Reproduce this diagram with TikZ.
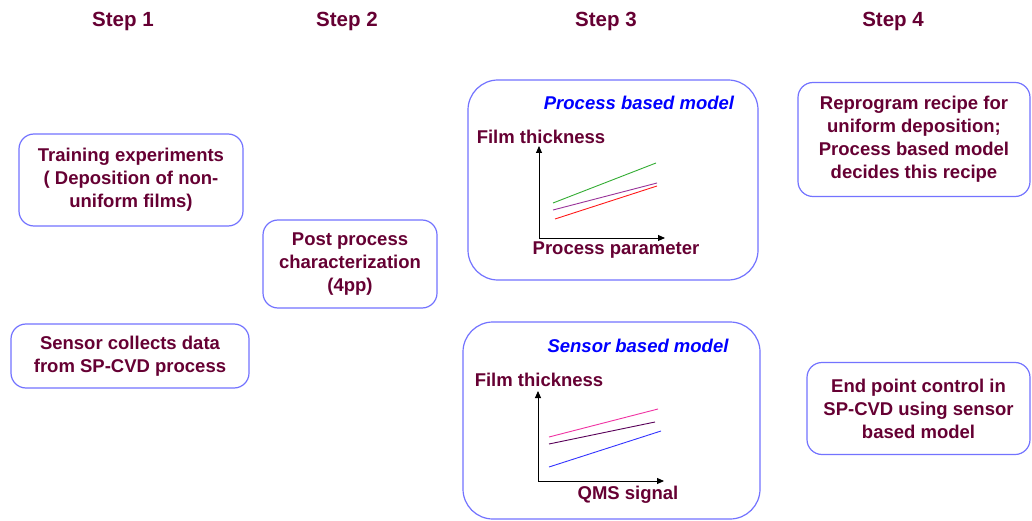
\documentclass[tikz,border=0pt]{standalone}
\usepackage{fontspec}
\setmainfont{Liberation Sans}
\usetikzlibrary{arrows.meta}
\definecolor{wine}{HTML}{660033}
\definecolor{boxblue}{HTML}{7373FF}
\definecolor{modelblue}{HTML}{0000FF}
\tikzset{
  steptext/.style = {text=wine, font=\bfseries\fontsize{20.5}{24}\selectfont},
  stepbox/.style = {draw=boxblue, line width=1.2pt, rounded corners=15pt, fill=white,
                    text=wine, align=center, font=\bfseries\fontsize{18.5}{23}\selectfont},
  modelbox/.style = {stepbox, rounded corners=30pt},
  modeltitle/.style = {text=modelblue, font=\bfseries\itshape\fontsize{18.5}{22}\selectfont},
  axislabel/.style = {text=wine, font=\bfseries\fontsize{18.5}{22}\selectfont},
  axis/.style = {-{Triangle[length=7pt,width=6pt]}, line width=0.9pt}
}
\begin{document}
\begin{tikzpicture}[x=1pt, y=-1pt]
  \useasboundingbox[fill=white] (0,0) rectangle (1032,521);

  \node[steptext] at (123, 21) (s1) {Step 1};
  \node[steptext] at (347, 21) (s2) {Step 2};
  \node[steptext] at (606, 21) (s3) {Step 3};
  \node[steptext] at (893, 21) (s4) {Step 4};

  % step 1 and 2
  \node[stepbox, minimum width=224pt, minimum height=92pt] at (131, 180) (train)
    {Training experiments\\( Deposition of non-\\uniform films)};
  \node[stepbox, minimum width=238pt, minimum height=64pt] at (130, 356) (collect)
    {Sensor collects data\\from SP-CVD process};
  \node[stepbox, minimum width=174pt, minimum height=88pt] at (350, 264) (post)
    {Post process\\characterization\\(4pp)};

  % step 3
  \node[modelbox, minimum width=290pt, minimum height=200pt] at (613, 180) (procbox) {};
  \node[modeltitle] at (639, 103) (proctitle) {Process based model};
  \node[axislabel] at (541, 137) (procy) {Film thickness};
  \node[axislabel] at (616, 250) (procx) {Process parameter};
  \coordinate (po) at (539, 238);
  \draw[axis] (po) -- (539, 146);
  \draw[axis] (po) -- (665, 238);
  \draw[green!60!black!80, line width=0.9pt] (553, 203) -- (656, 163);
  \draw[violet!80, line width=0.9pt] (553, 210) -- (657, 183);
  \draw[red!90, line width=0.9pt] (555, 219) -- (657, 186);

  \node[modelbox, minimum width=297pt, minimum height=197pt] at (611.5, 420.5) (sensbox) {};
  \node[modeltitle] at (638, 346) (senstitle) {Sensor based model};
  \node[axislabel] at (539, 380) (sensy) {Film thickness};
  \node[axislabel] at (628, 495) (sensx) {QMS signal};
  \coordinate (so) at (538, 481);
  \draw[axis] (so) -- (538, 391);
  \draw[axis] (so) -- (664, 481);
  \draw[magenta!80, line width=0.9pt] (549, 437) -- (658, 409);
  \draw[violet!70!black, line width=0.9pt] (549, 444) -- (655, 422);
  \draw[blue!80, line width=0.9pt] (549, 467) -- (661, 431);

  % step 4
  \node[stepbox, minimum width=232pt, minimum height=114pt] at (914, 139.5) (reprog)
    {Reprogram recipe for\\uniform deposition;\\Process based model\\decides this recipe};
  \node[stepbox, minimum width=223pt, minimum height=92pt] at (918.5, 408.5) (endpt)
    {End point control in\\SP-CVD using sensor\\based model};
\end{tikzpicture}
\end{document}
